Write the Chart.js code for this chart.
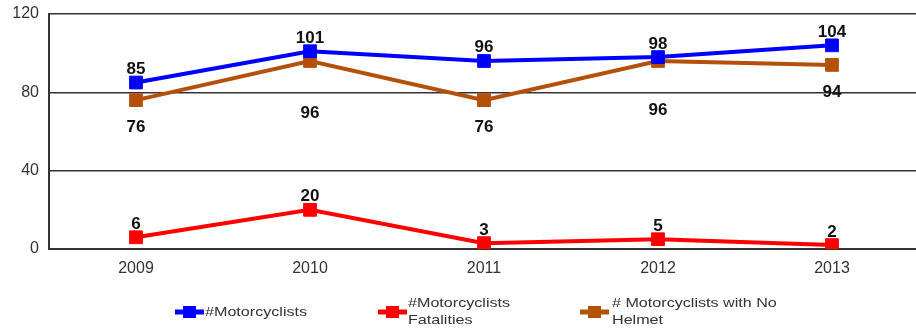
<!DOCTYPE html>
<html>
<head>
<meta charset="utf-8">
<script src="https://cdn.jsdelivr.net/npm/chart.js@4.4.1/dist/chart.umd.min.js"></script>
<style>
  html, body { margin: 0; padding: 0; background: #fff; overflow: hidden; }
  #wrap { width: 916px; height: 331px; overflow: hidden; }
  canvas { display: block; }
</style>
</head>
<body>
<div id="wrap"><canvas id="c" width="929" height="331"></canvas></div>
<script>
// Motorcyclist counts by year
const years = ['2009', '2010', '2011', '2012', '2013'];
const motorcyclists = [85, 101, 96, 98, 104];
const fatalities = [6, 20, 3, 5, 2];
const noHelmet = [76, 96, 76, 96, 94];
const yTicks = [0, 40, 80, 120];

const seriesNames = [['#Motorcyclists'], ['#Motorcyclists', 'Fatalities'], ['# Motorcyclists with No', 'Helmet']];
const seriesColors = ['#0000ff', '#ff0000', '#b4500a'];

// Vertical offset (px) of each value label relative to its point
const labelShift = [
  [-13, -13, -14, -13, -13],
  [-13, -14, -13, -13, -13],
  [27, 52, 27, 49, 27]
];

const valueLabels = {
  id: 'valueLabels',
  afterDatasetsDraw(chart) {
    const ctx = chart.ctx;
    ctx.save();
    ctx.font = 'bold 17px "Liberation Sans", Arial, sans-serif';
    ctx.fillStyle = '#111';
    ctx.textAlign = 'center';
    ctx.textBaseline = 'middle';
    chart.data.datasets.forEach((ds, i) => {
      chart.getDatasetMeta(i).data.forEach((pt, j) => {
        ctx.fillText(String(ds.data[j]), pt.x, pt.y + labelShift[i][j]);
      });
    });
    ctx.restore();
  }
};

// Legend drawn under the axis: line + square icon, wrapped (wide) text
const legendItems = [
  { iconX: 175, textX: 205, textY: [312] },
  { iconX: 378, textX: 408, textY: [303, 320] },
  { iconX: 580, textX: 612, textY: [303, 320] }
];
const bottomLegend = {
  id: 'bottomLegend',
  afterDraw(chart) {
    const ctx = chart.ctx;
    ctx.save();
    legendItems.forEach((it, i) => {
      const c = seriesColors[i];
      const cy = 312;
      ctx.strokeStyle = c;
      ctx.lineWidth = 5;
      ctx.beginPath();
      ctx.moveTo(it.iconX, cy);
      ctx.lineTo(it.iconX + 29, cy);
      ctx.stroke();
      ctx.fillStyle = c;
      ctx.fillRect(it.iconX + 8, cy - 6, 13, 12);
      ctx.fillStyle = '#333';
      ctx.font = '13px "Liberation Sans", Arial, sans-serif';
      ctx.textAlign = 'left';
      ctx.textBaseline = 'middle';
      seriesNames[i].forEach((line, k) => {
        ctx.save();
        ctx.translate(it.textX, it.textY[k]);
        ctx.scale(1.24, 1);
        ctx.fillText(line, 0, 0);
        ctx.restore();
      });
    });
    ctx.restore();
  }
};

const mkDataset = (label, data, color) => ({
  label, data,
  borderColor: color,
  backgroundColor: color,
  borderWidth: 4,
  pointStyle: 'rect',
  pointRadius: 9,
  pointHoverRadius: 9,
  pointBorderWidth: 1,
  pointBorderColor: color,
  tension: 0
});

new Chart(document.getElementById('c'), {
  type: 'line',
  data: {
    labels: years,
    datasets: [
      mkDataset('#Motorcyclists', motorcyclists, seriesColors[0]),
      mkDataset('#Motorcyclists Fatalities', fatalities, seriesColors[1]),
      mkDataset('# Motorcyclists with No Helmet', noHelmet, seriesColors[2])
    ]
  },
  options: {
    responsive: false,
    animation: false,
    layout: { padding: { top: 14, right: 0, left: 0, bottom: 0 } },
    plugins: { legend: { display: false }, tooltip: { enabled: false } },
    scales: {
      x: {
        offset: true,
        grid: { display: false, drawTicks: false },
        border: { display: true, color: '#333', width: 2 },
        ticks: {
          color: '#333',
          font: { family: '"Liberation Sans", Arial, sans-serif', size: 16 },
          padding: 10,
          maxRotation: 0
        },
        afterFit(scale) {
          scale.height = 82;
          scale.paddingLeft = 0;
          scale.paddingRight = 0;
        }
      },
      y: {
        min: 0, max: 120,
        afterBuildTicks(scale) { scale.ticks = yTicks.map(v => ({ value: v })); },
        grid: { color: '#333', lineWidth: 1.5, drawTicks: false },
        border: { display: true, color: '#333', width: 2 },
        ticks: {
          color: '#333',
          font: { family: '"Liberation Sans", Arial, sans-serif', size: 16 },
          padding: 10
        },
        afterFit(scale) {
          scale.width = 49;
          scale.paddingTop = 0;
          scale.paddingBottom = 0;
        }
      }
    }
  },
  plugins: [valueLabels, bottomLegend]
});
</script>
</body>
</html>
